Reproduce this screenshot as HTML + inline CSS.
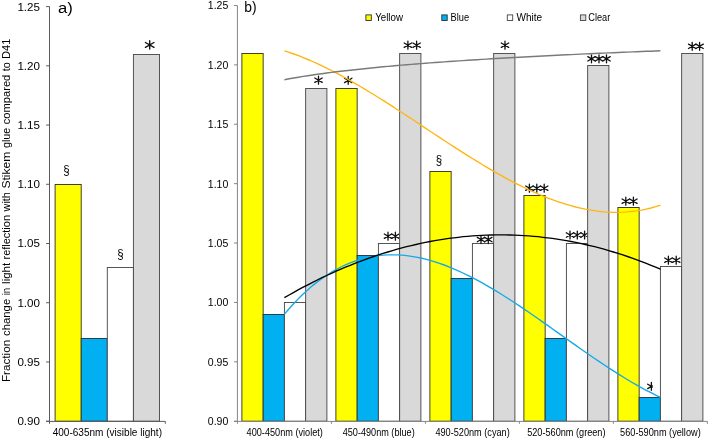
<!DOCTYPE html>
<html><head><meta charset="utf-8"><title>chart</title>
<style>html,body{margin:0;padding:0;background:#fff}body{width:708px;height:439px;overflow:hidden}svg{display:block;will-change:transform}text{font-family:"Liberation Sans",sans-serif;fill:#000}</style></head><body>
<svg width="708" height="439" viewBox="0 0 708 439">
<rect width="708" height="439" fill="#fff"/>
<defs>
<clipPath id="cl"><rect x="640" y="378" width="12.6" height="18"/></clipPath>
</defs>
<rect x="55.10" y="184.50" width="26.10" height="236.70" fill="#ffff00" stroke="#2e2e22" stroke-width="0.9"/>
<rect x="81.20" y="338.50" width="26.10" height="82.70" fill="#00b0f0" stroke="#26303a" stroke-width="0.9"/>
<rect x="107.30" y="267.50" width="26.10" height="153.70" fill="#ffffff" stroke="#444" stroke-width="0.9"/>
<rect x="133.40" y="54.50" width="26.10" height="366.70" fill="#d9d9d9" stroke="#444" stroke-width="0.9"/>
<g stroke="#5a5a5a" stroke-width="1" fill="none">
<path d="M49.5 6.6V423.8M46.1 421.4H165.3M165.3 421.4V423.8"/>
<path d="M46.1 6.60H49.5"/>
<path d="M46.1 65.83H49.5"/>
<path d="M46.1 125.06H49.5"/>
<path d="M46.1 184.29H49.5"/>
<path d="M46.1 243.51H49.5"/>
<path d="M46.1 302.74H49.5"/>
<path d="M46.1 361.97H49.5"/>
<path d="M46.1 421.20H49.5"/>
</g>
<text x="17.4" y="10.50" font-size="11.5" textLength="22.6" lengthAdjust="spacingAndGlyphs">1.25</text>
<text x="17.4" y="69.73" font-size="11.5" textLength="22.6" lengthAdjust="spacingAndGlyphs">1.20</text>
<text x="17.4" y="128.96" font-size="11.5" textLength="22.6" lengthAdjust="spacingAndGlyphs">1.15</text>
<text x="17.4" y="188.19" font-size="11.5" textLength="22.6" lengthAdjust="spacingAndGlyphs">1.10</text>
<text x="17.4" y="247.41" font-size="11.5" textLength="22.6" lengthAdjust="spacingAndGlyphs">1.05</text>
<text x="17.4" y="306.64" font-size="11.5" textLength="22.6" lengthAdjust="spacingAndGlyphs">1.00</text>
<text x="17.4" y="365.87" font-size="11.5" textLength="22.6" lengthAdjust="spacingAndGlyphs">0.95</text>
<text x="17.4" y="425.10" font-size="11.5" textLength="22.6" lengthAdjust="spacingAndGlyphs">0.90</text>
<text x="52.7" y="436.3" font-size="10.4" textLength="109.3" lengthAdjust="spacingAndGlyphs">400-635nm (visible light)</text>
<text x="58" y="12.7" font-size="15.5" textLength="14.8" lengthAdjust="spacingAndGlyphs">a)</text>
<g transform="translate(10.3 381.8) rotate(-90)">
<text x="-0.3" y="0" font-size="11" textLength="42.3" lengthAdjust="spacingAndGlyphs">Fraction</text>
<text x="45.9" y="0" font-size="11" textLength="37.1" lengthAdjust="spacingAndGlyphs">change</text>
<text x="86.5" y="0" font-size="11" textLength="7.5" lengthAdjust="spacingAndGlyphs">in</text>
<text x="97.9" y="0" font-size="11" textLength="21.1" lengthAdjust="spacingAndGlyphs">light</text>
<text x="122.3" y="0" font-size="11" textLength="44.5" lengthAdjust="spacingAndGlyphs">reflection</text>
<text x="170.4" y="0" font-size="11" textLength="19.3" lengthAdjust="spacingAndGlyphs">with</text>
<text x="193.2" y="0" font-size="11" textLength="37.0" lengthAdjust="spacingAndGlyphs">Stikem</text>
<text x="233.7" y="0" font-size="11" textLength="20.4" lengthAdjust="spacingAndGlyphs">glue</text>
<text x="257.5" y="0" font-size="11" textLength="49.6" lengthAdjust="spacingAndGlyphs">compared</text>
<text x="310.6" y="0" font-size="11" textLength="9.0" lengthAdjust="spacingAndGlyphs">to</text>
<text x="322.9" y="0" font-size="11" textLength="20.2" lengthAdjust="spacingAndGlyphs">D41</text>
</g>
<text transform="translate(66.55 174.0) scale(1,1.18)" font-size="11.5" text-anchor="middle">§</text>
<text transform="translate(120.4 257.6) scale(1,1.18)" font-size="11.5" text-anchor="middle">§</text>
<g transform="translate(149.7 44.9)" stroke="#111" stroke-width="1.35" stroke-linecap="round" fill="none"><path d="M0 -4.2V4.2M-4.3 -2.4L4.3 2.4M-4.3 2.4L4.3 -2.4"/><circle r="1.1" fill="#111" stroke="none"/></g>
<rect x="241.90" y="53.50" width="21.25" height="367.70" fill="#ffff00" stroke="#2e2e22" stroke-width="0.9"/>
<rect x="335.90" y="88.50" width="21.25" height="332.70" fill="#ffff00" stroke="#2e2e22" stroke-width="0.9"/>
<rect x="429.90" y="171.50" width="21.25" height="249.70" fill="#ffff00" stroke="#2e2e22" stroke-width="0.9"/>
<rect x="523.90" y="195.50" width="21.25" height="225.70" fill="#ffff00" stroke="#2e2e22" stroke-width="0.9"/>
<rect x="617.90" y="207.50" width="21.25" height="213.70" fill="#ffff00" stroke="#2e2e22" stroke-width="0.9"/>
<g transform="translate(348.2 80.4)" stroke="#111" stroke-width="1.3" stroke-linecap="round" fill="none"><path d="M0 -3.95V3.95M-3.7 -2.2L3.7 2.2M-3.7 2.2L3.7 -2.2"/><circle r="1.1" fill="#111" stroke="none"/></g>
<text transform="translate(438.9 164.4) scale(1,1.18)" font-size="11.5" text-anchor="middle">§</text>
<g transform="translate(529.4 188.2)" stroke="#111" stroke-width="1.3" stroke-linecap="round" fill="none"><path d="M0 -3.95V3.95M-3.7 -2.2L3.7 2.2M-3.7 2.2L3.7 -2.2"/><circle r="1.1" fill="#111" stroke="none"/></g>
<g transform="translate(536.8 188.2)" stroke="#111" stroke-width="1.3" stroke-linecap="round" fill="none"><path d="M0 -3.95V3.95M-3.7 -2.2L3.7 2.2M-3.7 2.2L3.7 -2.2"/><circle r="1.1" fill="#111" stroke="none"/></g>
<g transform="translate(544.2 188.2)" stroke="#111" stroke-width="1.3" stroke-linecap="round" fill="none"><path d="M0 -3.95V3.95M-3.7 -2.2L3.7 2.2M-3.7 2.2L3.7 -2.2"/><circle r="1.1" fill="#111" stroke="none"/></g>
<g transform="translate(625.8 201.2)" stroke="#111" stroke-width="1.3" stroke-linecap="round" fill="none"><path d="M0 -3.95V3.95M-3.7 -2.2L3.7 2.2M-3.7 2.2L3.7 -2.2"/><circle r="1.1" fill="#111" stroke="none"/></g>
<g transform="translate(633.4 201.2)" stroke="#111" stroke-width="1.3" stroke-linecap="round" fill="none"><path d="M0 -3.95V3.95M-3.7 -2.2L3.7 2.2M-3.7 2.2L3.7 -2.2"/><circle r="1.1" fill="#111" stroke="none"/></g>
<rect x="263.15" y="314.50" width="21.25" height="106.70" fill="#00b0f0" stroke="#26303a" stroke-width="0.9"/>
<rect x="357.15" y="255.50" width="21.25" height="165.70" fill="#00b0f0" stroke="#26303a" stroke-width="0.9"/>
<rect x="451.15" y="278.50" width="21.25" height="142.70" fill="#00b0f0" stroke="#26303a" stroke-width="0.9"/>
<rect x="545.15" y="338.50" width="21.25" height="82.70" fill="#00b0f0" stroke="#26303a" stroke-width="0.9"/>
<rect x="639.15" y="397.50" width="21.25" height="23.70" fill="#00b0f0" stroke="#26303a" stroke-width="0.9"/>
<g clip-path="url(#cl)"><g transform="translate(651.4 386.4)" stroke="#111" stroke-width="1.3" stroke-linecap="round" fill="none"><path d="M0 -3.95V3.95M-3.7 -2.2L3.7 2.2M-3.7 2.2L3.7 -2.2"/><circle r="1.1" fill="#111" stroke="none"/></g></g>
<rect x="284.40" y="302.50" width="21.25" height="118.70" fill="#ffffff" stroke="#444" stroke-width="0.9"/>
<rect x="378.40" y="243.50" width="21.25" height="177.70" fill="#ffffff" stroke="#444" stroke-width="0.9"/>
<rect x="472.40" y="243.50" width="21.25" height="177.70" fill="#ffffff" stroke="#444" stroke-width="0.9"/>
<rect x="566.40" y="243.50" width="21.25" height="177.70" fill="#ffffff" stroke="#444" stroke-width="0.9"/>
<rect x="660.40" y="266.50" width="21.25" height="154.70" fill="#ffffff" stroke="#444" stroke-width="0.9"/>
<g transform="translate(388 236.2)" stroke="#111" stroke-width="1.3" stroke-linecap="round" fill="none"><path d="M0 -3.95V3.95M-3.7 -2.2L3.7 2.2M-3.7 2.2L3.7 -2.2"/><circle r="1.1" fill="#111" stroke="none"/></g>
<g transform="translate(395.4 236.2)" stroke="#111" stroke-width="1.3" stroke-linecap="round" fill="none"><path d="M0 -3.95V3.95M-3.7 -2.2L3.7 2.2M-3.7 2.2L3.7 -2.2"/><circle r="1.1" fill="#111" stroke="none"/></g>
<g transform="translate(481 239.6)" stroke="#111" stroke-width="1.3" stroke-linecap="round" fill="none"><path d="M0 -3.95V3.95M-3.7 -2.2L3.7 2.2M-3.7 2.2L3.7 -2.2"/><circle r="1.1" fill="#111" stroke="none"/></g>
<g transform="translate(488.3 239.6)" stroke="#111" stroke-width="1.3" stroke-linecap="round" fill="none"><path d="M0 -3.95V3.95M-3.7 -2.2L3.7 2.2M-3.7 2.2L3.7 -2.2"/><circle r="1.1" fill="#111" stroke="none"/></g>
<g transform="translate(570 235)" stroke="#111" stroke-width="1.3" stroke-linecap="round" fill="none"><path d="M0 -3.95V3.95M-3.7 -2.2L3.7 2.2M-3.7 2.2L3.7 -2.2"/><circle r="1.1" fill="#111" stroke="none"/></g>
<g transform="translate(577.3 235)" stroke="#111" stroke-width="1.3" stroke-linecap="round" fill="none"><path d="M0 -3.95V3.95M-3.7 -2.2L3.7 2.2M-3.7 2.2L3.7 -2.2"/><circle r="1.1" fill="#111" stroke="none"/></g>
<g transform="translate(584.6 235)" stroke="#111" stroke-width="1.3" stroke-linecap="round" fill="none"><path d="M0 -3.95V3.95M-3.7 -2.2L3.7 2.2M-3.7 2.2L3.7 -2.2"/><circle r="1.1" fill="#111" stroke="none"/></g>
<g transform="translate(668.4 260.2)" stroke="#111" stroke-width="1.3" stroke-linecap="round" fill="none"><path d="M0 -3.95V3.95M-3.7 -2.2L3.7 2.2M-3.7 2.2L3.7 -2.2"/><circle r="1.1" fill="#111" stroke="none"/></g>
<g transform="translate(676.2 260.2)" stroke="#111" stroke-width="1.3" stroke-linecap="round" fill="none"><path d="M0 -3.95V3.95M-3.7 -2.2L3.7 2.2M-3.7 2.2L3.7 -2.2"/><circle r="1.1" fill="#111" stroke="none"/></g>
<rect x="305.65" y="88.50" width="21.25" height="332.70" fill="#d9d9d9" stroke="#444" stroke-width="0.9"/>
<rect x="399.65" y="53.50" width="21.25" height="367.70" fill="#d9d9d9" stroke="#444" stroke-width="0.9"/>
<rect x="493.65" y="53.50" width="21.25" height="367.70" fill="#d9d9d9" stroke="#444" stroke-width="0.9"/>
<rect x="587.65" y="65.50" width="21.25" height="355.70" fill="#d9d9d9" stroke="#444" stroke-width="0.9"/>
<rect x="681.65" y="53.50" width="21.25" height="367.70" fill="#d9d9d9" stroke="#444" stroke-width="0.9"/>
<g transform="translate(318.5 80.2)" stroke="#111" stroke-width="1.3" stroke-linecap="round" fill="none"><path d="M0 -3.95V3.95M-3.7 -2.2L3.7 2.2M-3.7 2.2L3.7 -2.2"/><circle r="1.1" fill="#111" stroke="none"/></g>
<g transform="translate(407.9 45.2)" stroke="#111" stroke-width="1.3" stroke-linecap="round" fill="none"><path d="M0 -3.95V3.95M-3.7 -2.2L3.7 2.2M-3.7 2.2L3.7 -2.2"/><circle r="1.1" fill="#111" stroke="none"/></g>
<g transform="translate(416.6 45.2)" stroke="#111" stroke-width="1.3" stroke-linecap="round" fill="none"><path d="M0 -3.95V3.95M-3.7 -2.2L3.7 2.2M-3.7 2.2L3.7 -2.2"/><circle r="1.1" fill="#111" stroke="none"/></g>
<g transform="translate(505 45.2)" stroke="#111" stroke-width="1.3" stroke-linecap="round" fill="none"><path d="M0 -3.95V3.95M-3.7 -2.2L3.7 2.2M-3.7 2.2L3.7 -2.2"/><circle r="1.1" fill="#111" stroke="none"/></g>
<g transform="translate(591.5 58.8)" stroke="#111" stroke-width="1.3" stroke-linecap="round" fill="none"><path d="M0 -3.95V3.95M-3.7 -2.2L3.7 2.2M-3.7 2.2L3.7 -2.2"/><circle r="1.1" fill="#111" stroke="none"/></g>
<g transform="translate(599 58.8)" stroke="#111" stroke-width="1.3" stroke-linecap="round" fill="none"><path d="M0 -3.95V3.95M-3.7 -2.2L3.7 2.2M-3.7 2.2L3.7 -2.2"/><circle r="1.1" fill="#111" stroke="none"/></g>
<g transform="translate(606.5 58.8)" stroke="#111" stroke-width="1.3" stroke-linecap="round" fill="none"><path d="M0 -3.95V3.95M-3.7 -2.2L3.7 2.2M-3.7 2.2L3.7 -2.2"/><circle r="1.1" fill="#111" stroke="none"/></g>
<g transform="translate(692.2 46.3)" stroke="#111" stroke-width="1.3" stroke-linecap="round" fill="none"><path d="M0 -3.95V3.95M-3.7 -2.2L3.7 2.2M-3.7 2.2L3.7 -2.2"/><circle r="1.1" fill="#111" stroke="none"/></g>
<g transform="translate(699.6 46.3)" stroke="#111" stroke-width="1.3" stroke-linecap="round" fill="none"><path d="M0 -3.95V3.95M-3.7 -2.2L3.7 2.2M-3.7 2.2L3.7 -2.2"/><circle r="1.1" fill="#111" stroke="none"/></g>
<g stroke="#858585" stroke-width="1" fill="none">
<path d="M237.4 5.5V423.8M234.0 421.4H707.4"/>
<path d="M331.40 421.4V423.8"/>
<path d="M425.40 421.4V423.8"/>
<path d="M519.40 421.4V423.8"/>
<path d="M613.40 421.4V423.8"/>
<path d="M707.40 421.4V423.8"/>
<path d="M234.0 5.50H237.4"/>
<path d="M234.0 64.89H237.4"/>
<path d="M234.0 124.27H237.4"/>
<path d="M234.0 183.66H237.4"/>
<path d="M234.0 243.04H237.4"/>
<path d="M234.0 302.43H237.4"/>
<path d="M234.0 361.81H237.4"/>
<path d="M234.0 421.20H237.4"/>
</g>
<text x="207.8" y="9.40" font-size="11.5" textLength="20.5" lengthAdjust="spacingAndGlyphs">1.25</text>
<text x="207.8" y="68.79" font-size="11.5" textLength="20.5" lengthAdjust="spacingAndGlyphs">1.20</text>
<text x="207.8" y="128.17" font-size="11.5" textLength="20.5" lengthAdjust="spacingAndGlyphs">1.15</text>
<text x="207.8" y="187.56" font-size="11.5" textLength="20.5" lengthAdjust="spacingAndGlyphs">1.10</text>
<text x="207.8" y="246.94" font-size="11.5" textLength="20.5" lengthAdjust="spacingAndGlyphs">1.05</text>
<text x="207.8" y="306.33" font-size="11.5" textLength="20.5" lengthAdjust="spacingAndGlyphs">1.00</text>
<text x="207.8" y="365.71" font-size="11.5" textLength="20.5" lengthAdjust="spacingAndGlyphs">0.95</text>
<text x="207.8" y="425.10" font-size="11.5" textLength="20.5" lengthAdjust="spacingAndGlyphs">0.90</text>
<text x="246.6" y="436.1" font-size="10.3" textLength="76.3" lengthAdjust="spacingAndGlyphs">400-450nm (violet)</text>
<text x="342.7" y="436.1" font-size="10.3" textLength="72" lengthAdjust="spacingAndGlyphs">450-490nm (blue)</text>
<text x="435.4" y="436.1" font-size="10.3" textLength="74.3" lengthAdjust="spacingAndGlyphs">490-520nm (cyan)</text>
<text x="527.2" y="436.1" font-size="10.3" textLength="78.3" lengthAdjust="spacingAndGlyphs">520-560nm (green)</text>
<text x="620.1" y="436.1" font-size="10.3" textLength="80.6" lengthAdjust="spacingAndGlyphs">560-590nm (yellow)</text>
<text x="244.3" y="12.3" font-size="15" textLength="12.3" lengthAdjust="spacingAndGlyphs">b)</text>
<polyline points="284.4,50.8 289.1,52.3 293.8,54.0 298.5,55.7 303.2,57.6 307.9,59.5 312.6,61.5 317.3,63.6 322.0,65.8 326.7,68.1 331.4,70.5 336.1,72.9 340.8,75.4 345.5,78.0 350.2,80.6 354.9,83.3 359.6,86.0 364.3,88.8 369.0,91.7 373.7,94.5 378.4,97.5 383.1,100.4 387.8,103.4 392.5,106.4 397.2,109.5 401.9,112.5 406.6,115.6 411.3,118.7 416.0,121.8 420.7,124.9 425.4,128.1 430.1,131.2 434.8,134.3 439.5,137.4 444.2,140.5 448.9,143.5 453.6,146.6 458.3,149.6 463.0,152.6 467.7,155.6 472.4,158.5 477.1,161.4 481.8,164.3 486.5,167.1 491.2,169.9 495.9,172.6 500.6,175.2 505.3,177.8 510.0,180.4 514.7,182.8 519.4,185.2 524.1,187.5 528.8,189.8 533.5,191.9 538.2,194.0 542.9,196.0 547.6,197.8 552.3,199.6 557.0,201.3 561.7,202.9 566.4,204.4 571.1,205.7 575.8,207.0 580.5,208.1 585.2,209.1 589.9,209.9 594.6,210.7 599.3,211.3 604.0,211.8 608.7,212.1 613.4,212.3 618.1,212.3 622.8,212.2 627.5,211.9 632.2,211.4 636.9,210.8 641.6,210.1 646.3,209.1 651.0,208.0 655.7,206.7 660.4,205.2" fill="none" stroke="#ffb511" stroke-width="1.35" stroke-linejoin="round"/>
<polyline points="284.4,314.1 289.1,308.7 293.8,303.5 298.5,298.6 303.2,294.0 307.9,289.7 312.6,285.6 317.3,281.9 322.0,278.4 326.7,275.2 331.4,272.2 336.1,269.5 340.8,267.0 345.5,264.8 350.2,262.8 354.9,261.1 359.6,259.5 364.3,258.2 369.0,257.1 373.7,256.3 378.4,255.6 383.1,255.1 387.8,254.9 392.5,254.8 397.2,254.9 401.9,255.2 406.6,255.6 411.3,256.3 416.0,257.1 420.7,258.0 425.4,259.2 430.1,260.4 434.8,261.8 439.5,263.4 444.2,265.0 448.9,266.9 453.6,268.8 458.3,270.8 463.0,273.0 467.7,275.3 472.4,277.7 477.1,280.1 481.8,282.7 486.5,285.3 491.2,288.1 495.9,290.9 500.6,293.8 505.3,296.7 510.0,299.7 514.7,302.8 519.4,305.9 524.1,309.1 528.8,312.3 533.5,315.5 538.2,318.8 542.9,322.1 547.6,325.4 552.3,328.7 557.0,332.1 561.7,335.4 566.4,338.7 571.1,342.1 575.8,345.4 580.5,348.7 585.2,352.0 589.9,355.2 594.6,358.5 599.3,361.6 604.0,364.8 608.7,367.9 613.4,370.9 618.1,373.9 622.8,376.8 627.5,379.7 632.2,382.5 636.9,385.2 641.6,387.8 646.3,390.3 651.0,392.7 655.7,395.1 660.4,397.3" fill="none" stroke="#12a9ea" stroke-width="1.35" stroke-linejoin="round"/>
<polyline points="284.4,297.7 289.1,295.0 293.8,292.3 298.5,289.7 303.2,287.2 307.9,284.8 312.6,282.4 317.3,280.0 322.0,277.7 326.7,275.5 331.4,273.3 336.1,271.2 340.8,269.2 345.5,267.2 350.2,265.3 354.9,263.4 359.6,261.6 364.3,259.8 369.0,258.1 373.7,256.5 378.4,254.9 383.1,253.4 387.8,252.0 392.5,250.6 397.2,249.2 401.9,247.9 406.6,246.7 411.3,245.6 416.0,244.5 420.7,243.4 425.4,242.4 430.1,241.5 434.8,240.7 439.5,239.9 444.2,239.1 448.9,238.4 453.6,237.8 458.3,237.3 463.0,236.7 467.7,236.3 472.4,235.9 477.1,235.6 481.8,235.3 486.5,235.1 491.2,235.0 495.9,234.9 500.6,234.8 505.3,234.9 510.0,235.0 514.7,235.1 519.4,235.3 524.1,235.6 528.8,235.9 533.5,236.3 538.2,236.7 542.9,237.3 547.6,237.8 552.3,238.4 557.0,239.1 561.7,239.9 566.4,240.7 571.1,241.5 575.8,242.4 580.5,243.4 585.2,244.5 589.9,245.6 594.6,246.7 599.3,247.9 604.0,249.2 608.7,250.6 613.4,252.0 618.1,253.4 622.8,254.9 627.5,256.5 632.2,258.1 636.9,259.8 641.6,261.6 646.3,263.4 651.0,265.3 655.7,267.2 660.4,269.2" fill="none" stroke="#000000" stroke-width="1.35" stroke-linejoin="round"/>
<polyline points="284.4,79.7 289.1,78.8 293.8,78.0 298.5,77.2 303.2,76.4 307.9,75.7 312.6,75.0 317.3,74.3 322.0,73.7 326.7,73.0 331.4,72.4 336.1,71.8 340.8,71.3 345.5,70.7 350.2,70.2 354.9,69.7 359.6,69.2 364.3,68.7 369.0,68.2 373.7,67.7 378.4,67.3 383.1,66.8 387.8,66.4 392.5,66.0 397.2,65.5 401.9,65.1 406.6,64.7 411.3,64.4 416.0,64.0 420.7,63.6 425.4,63.3 430.1,62.9 434.8,62.5 439.5,62.2 444.2,61.9 448.9,61.5 453.6,61.2 458.3,60.9 463.0,60.6 467.7,60.3 472.4,60.0 477.1,59.7 481.8,59.4 486.5,59.1 491.2,58.8 495.9,58.5 500.6,58.3 505.3,58.0 510.0,57.7 514.7,57.5 519.4,57.2 524.1,57.0 528.8,56.7 533.5,56.5 538.2,56.2 542.9,56.0 547.6,55.7 552.3,55.5 557.0,55.3 561.7,55.0 566.4,54.8 571.1,54.6 575.8,54.4 580.5,54.1 585.2,53.9 589.9,53.7 594.6,53.5 599.3,53.3 604.0,53.1 608.7,52.9 613.4,52.7 618.1,52.5 622.8,52.3 627.5,52.1 632.2,51.9 636.9,51.7 641.6,51.5 646.3,51.3 651.0,51.2 655.7,51.0 660.4,50.8" fill="none" stroke="#7a7a7a" stroke-width="1.4" stroke-linejoin="round"/>
<rect x="365.9" y="14.9" width="5.4" height="5.6" fill="#ffff00" stroke="#2e2e22" stroke-width="0.9"/>
<text x="375.2" y="20.8" font-size="11.3" textLength="27.8" lengthAdjust="spacingAndGlyphs">Yellow</text>
<rect x="441.79999999999995" y="14.9" width="5.4" height="5.6" fill="#00b0f0" stroke="#26303a" stroke-width="0.9"/>
<text x="450.5" y="20.8" font-size="11.3" textLength="18.6" lengthAdjust="spacingAndGlyphs">Blue</text>
<rect x="507.29999999999995" y="14.9" width="5.4" height="5.6" fill="#ffffff" stroke="#444" stroke-width="0.9"/>
<text x="516.4" y="20.8" font-size="11.3" textLength="25.7" lengthAdjust="spacingAndGlyphs">White</text>
<rect x="580.4" y="14.9" width="5.4" height="5.6" fill="#d9d9d9" stroke="#444" stroke-width="0.9"/>
<text x="588.3" y="20.8" font-size="11.3" textLength="22.0" lengthAdjust="spacingAndGlyphs">Clear</text>
</svg></body></html>
